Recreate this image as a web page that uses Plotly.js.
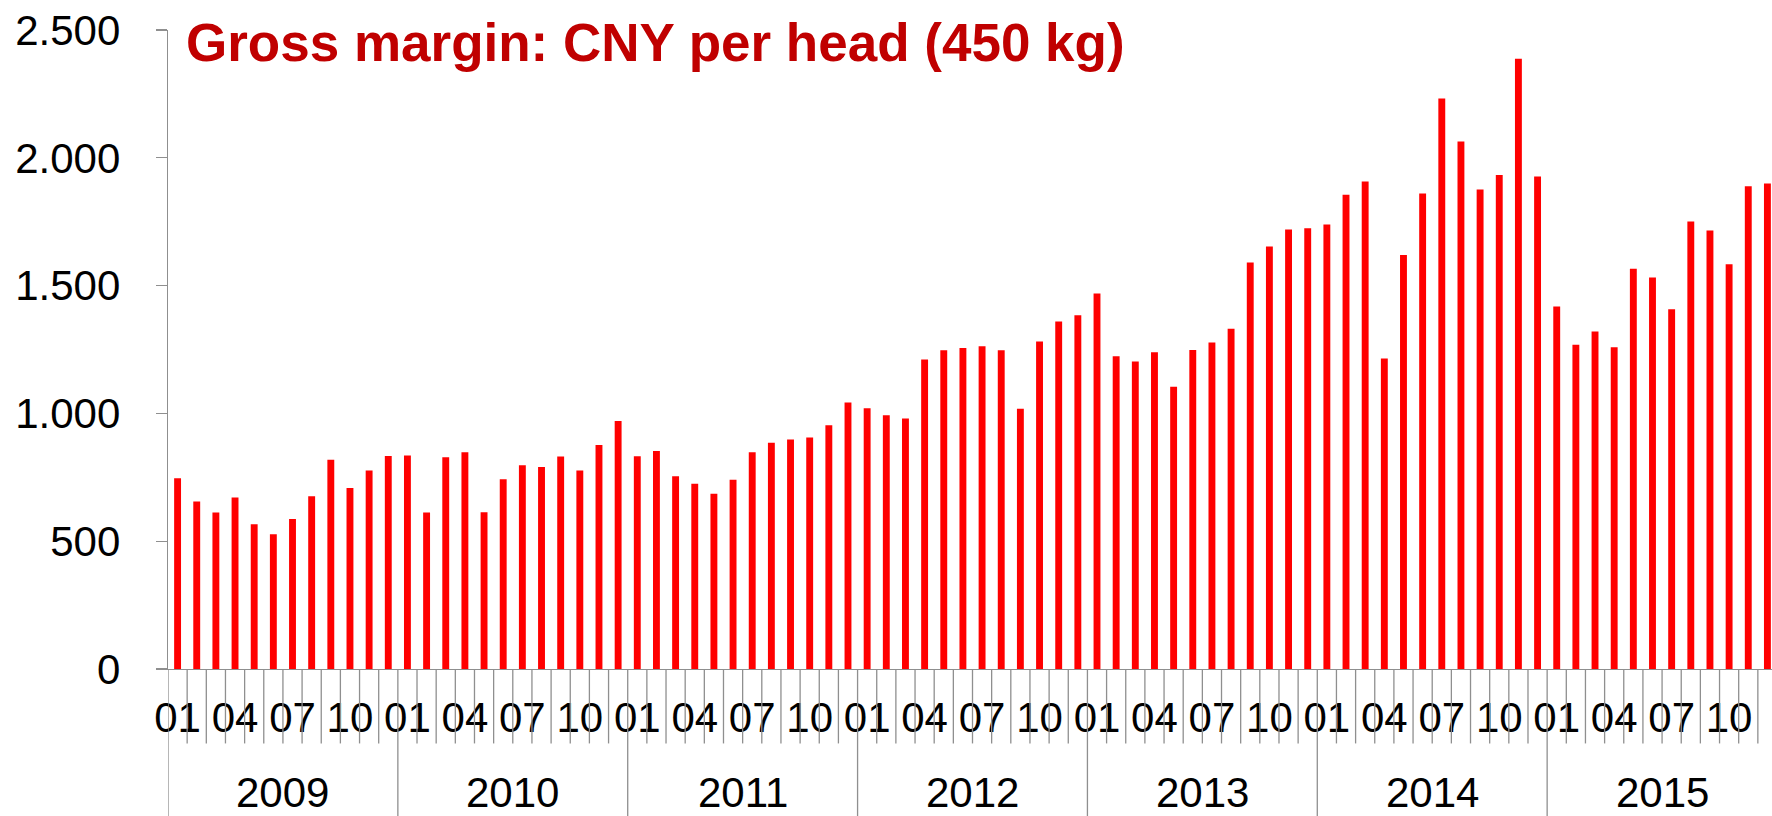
<!DOCTYPE html>
<html>
<head>
<meta charset="utf-8">
<script src="https://cdn.plot.ly/plotly-3.0.1.min.js"></script>
<style>
  html, body { margin: 0; padding: 0; overflow: hidden; background: #ffffff; }
  #chart { width: 1780px; height: 816px; }
</style>
</head>
<body>
<div id="chart"></div>
<script>
// ---- data ----
var years = ['2009', '2010', '2011', '2012', '2013', '2014', '2015'];
var months = ['01', '02', '03', '04', '05', '06', '07', '08', '09', '10', '11', '12'];
var labeledMonths = ['01', '04', '07', '10'];

var margin2009 = [746, 655, 612, 671, 566, 527, 587, 676, 819, 708, 777, 833];
var margin2010 = [835, 612, 828, 848, 613, 742, 797, 790, 831, 777, 876, 970];
var margin2011 = [832, 853, 754, 725, 686, 740, 848, 885, 898, 906, 954, 1043];
var margin2012 = [1020, 993, 980, 1211, 1247, 1256, 1263, 1247, 1018, 1281, 1360, 1384];
var margin2013 = [1469, 1224, 1203, 1239, 1104, 1248, 1277, 1331, 1590, 1653, 1719, 1724];
var margin2014 = [1739, 1855, 1907, 1215, 1620, 1860, 2232, 2064, 1876, 1933, 2388, 1927];
var margin2015 = [1418, 1269, 1320, 1259, 1566, 1532, 1407, 1751, 1716, 1584, 1889, 1899];

var titleText = 'Gross margin: CNY per head (450 kg)';

// ---- build series ----
var perYear = [margin2009, margin2010, margin2011, margin2012, margin2013, margin2014, margin2015];
var cats = [], vals = [], tickVals = [], tickText = [];
years.forEach(function (y, yi) {
  months.forEach(function (m, mi) {
    var c = y + '-' + m;
    cats.push(c);
    vals.push(perYear[yi][mi]);
    if (labeledMonths.indexOf(m) >= 0) { tickVals.push(c); tickText.push(m); }
  });
});

var axisGray = '#8f8f8f';
var fontFam = 'Liberation Sans, Arial, Helvetica, sans-serif';

// plot-area geometry helper: pixel row -> paper fraction
var plotTop = 30, plotBottom = 669.5;
var plotH = plotBottom - plotTop;
function paperY(px) { return (plotBottom - px) / plotH; }

// category-axis divider ticks (month boundaries short, year boundaries long)
var shapes = [];
for (var i = 0; i <= cats.length; i++) {
  var isYear = (i % 12 === 0);
  shapes.push({
    type: 'line', xref: 'x', yref: 'paper',
    x0: i - 0.5, x1: i - 0.5,
    y0: 0, y1: isYear ? paperY(830) : paperY(744),
    line: { color: axisGray, width: 1.3 }
  });
}

var annotations = years.map(function (y, yi) {
  return {
    x: yi * 12 + 5.5, xref: 'x',
    y: paperY(793), yref: 'paper',
    text: y, showarrow: false,
    xanchor: 'center', yanchor: 'middle',
    font: { family: fontFam, size: 42, color: '#000000' }
  };
});

var trace = {
  type: 'bar',
  x: cats,
  y: vals,
  marker: { color: '#ff0000', line: { width: 0 } },
  hoverinfo: 'x+y'
};

var layout = {
  width: 1780,
  height: 816,
  margin: { l: 168, r: 3, t: plotTop, b: 816 - plotBottom, pad: 0 },
  paper_bgcolor: '#ffffff',
  plot_bgcolor: '#ffffff',
  separators: ',.',
  showlegend: false,
  bargap: 0.64,
  title: {
    text: titleText,
    font: { family: fontFam, size: 53, color: '#c00000', weight: 'bold' },
    xref: 'container', yref: 'container',
    x: 186 / 1780, xanchor: 'left',
    y: 1 - 42 / 816, yanchor: 'middle'
  },
  xaxis: {
    type: 'category',
    range: [-0.5, cats.length - 0.5],
    tickmode: 'array',
    tickvals: tickVals,
    ticktext: tickText,
    ticks: '',
    showline: true, linecolor: axisGray, linewidth: 1.3,
    showgrid: false, zeroline: false,
    tickfont: { family: fontFam, size: 42, color: '#000000' },
    ticklabelstandoff: 11,
    tickangle: 0,
    fixedrange: true
  },
  yaxis: {
    range: [0, 2500],
    tickmode: 'linear', tick0: 0, dtick: 500,
    tickformat: ',d',
    ticks: 'outside', ticklen: 11, tickwidth: 1.3, tickcolor: axisGray,
    showline: true, linecolor: axisGray, linewidth: 1.3,
    showgrid: false, zeroline: false,
    tickfont: { family: fontFam, size: 42, color: '#000000' },
    ticklabelstandoff: 27,
    fixedrange: true
  },
  shapes: shapes,
  annotations: annotations
};

Plotly.newPlot('chart', [trace], layout, { displayModeBar: false, staticPlot: true });
</script>
</body>
</html>
